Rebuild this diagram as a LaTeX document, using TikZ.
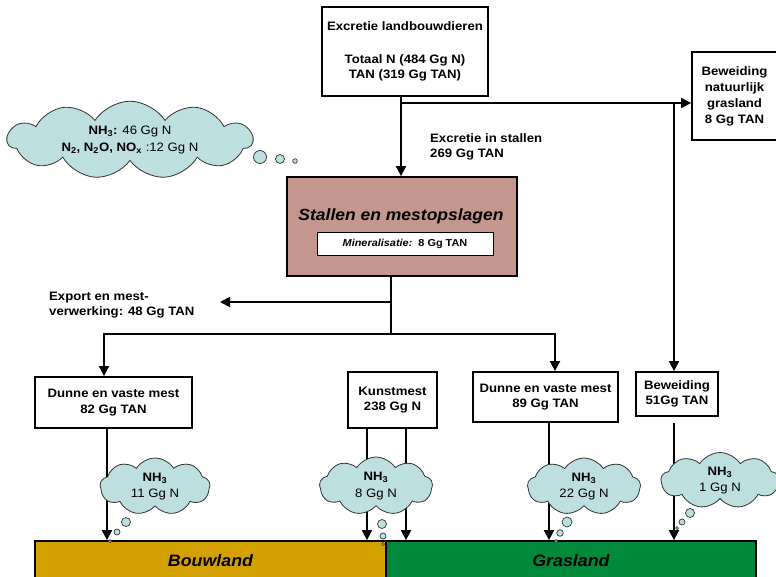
\documentclass[tikz,border=0pt]{standalone}
\usepackage{fontspec}
\setmainfont{Liberation Sans}[FakeStretch=1.08]
\usetikzlibrary{arrows.meta,shapes.symbols}
\definecolor{wolkcol}{RGB}{190,223,224}
\definecolor{stalcol}{RGB}{195,151,142}
\definecolor{bouwcol}{RGB}{212,160,0}
\definecolor{grascol}{RGB}{0,137,58}
\tikzset{
  box/.style={draw, line width=1.8pt, fill=white, align=center, inner sep=0pt,
    font=\bfseries\fontsize{12.2}{15.5}\selectfont},
  flow/.style={line width=1.8pt},
  arr/.style={line width=1.8pt, -{Triangle[length=10pt,width=10pt]}},
  txt/.style={align=left, anchor=west, inner sep=0pt, font=\bfseries\fontsize{12.2}{15.5}\selectfont},
  wolk/.style={cloud, cloud puffs=11, cloud puff arc=115, draw=black!80, line width=0.8pt,
    fill=wolkcol, align=center, inner sep=0pt, font=\fontsize{12.2}{16.5}\selectfont},
  bubble/.style={draw=black!80, line width=0.7pt, fill=wolkcol},
  bar/.style={draw, line width=1.8pt, inner sep=0pt, font=\bfseries\itshape\fontsize{16.5}{18}\selectfont}
}
\begin{document}
\begin{tikzpicture}[x=1pt,y=-1pt]
    \useasboundingbox (0,0) rectangle (776,576);
    % boxes
    \node[box, minimum width=166pt, minimum height=89pt] (excr) at (405,51.5)
        {Excretie landbouwdieren\\[17pt]Totaal N (484 Gg N)\\TAN (319 Gg TAN)};
    \node[box, minimum width=85pt, minimum height=88pt, font=\bfseries\fontsize{12.2}{16}\selectfont] (nat) at (734.5,96)
        {Beweiding\\natuurlijk\\grasland\\8 Gg TAN};
    \node[box, fill=stalcol, minimum width=230pt, minimum height=99pt] (stal) at (402,226.5) {};
    \node[font=\bfseries\itshape\fontsize{16.2}{18}\selectfont, inner sep=0pt] (staltxt) at (401,216) {Stallen en mestopslagen};
    \node[box, line width=0.8pt, minimum width=176pt, minimum height=23pt,
        font=\bfseries\fontsize{10.1}{12}\selectfont] (mineral) at (405,243.5) {\textit{Mineralisatie:}\ \ 8 Gg TAN};
    \node[box, minimum width=157pt, minimum height=51pt] (mest1) at (113.5,402.5) {Dunne en vaste mest\\82 Gg TAN};
    \node[box, minimum width=89pt, minimum height=56pt] (kunst) at (392.5,400) {Kunstmest\\238 Gg N};
    \node[box, minimum width=145pt, minimum height=50pt] (mest2) at (545.5,397) {Dunne en vaste mest\\89 Gg TAN};
    \node[box, minimum width=82pt, minimum height=44pt] (bew) at (677,394) {Beweiding\\51Gg TAN};
    % land
    \node[bar, fill=bouwcol, minimum width=351pt, minimum height=40pt] (bouw) at (210.5,561) {Bouwland};
    \node[bar, fill=grascol, minimum width=370pt, minimum height=40pt] (gras) at (571,561) {Grasland};
    % text
    \node[txt] (stallabel) at (430,147) {Excretie in stallen\\269 Gg TAN};
    \node[txt] (explabel) at (49,305) {Export en mest-\\verwerking: 48 Gg TAN};
    % excretie
    \coordinate (split) at (401,103);
    \coordinate (turn) at (674,103);
    \draw[arr] (excr.south -| split) -- (stal.north -| split);
    \draw[arr] (split) -- (split -| nat.west);
    \draw[arr] (turn) -- (turn |- bew.north);
    % verdeling
    \coordinate (hub) at (391,302);
    \coordinate (fork) at (391,334);
    \coordinate (expend) at (220,302);
    \coordinate (colL) at (104,334);
    \coordinate (colR) at (555,334);
    \draw[flow] (stal.south -| hub) -- (fork);
    \draw[arr] (hub) -- (expend);
    \draw[arr] (fork) -- (colL) -- (colL |- mest1.north);
    \draw[arr] (fork) -- (colR) -- (colR |- mest2.north);
    % toediening
    \draw[arr] ([xshift=-6.5pt]mest1.south) -- ([xshift=-6.5pt]mest1.south |- bouw.north);
    \draw[arr] ([xshift=-25.5pt]kunst.south) -- ([xshift=-25.5pt]kunst.south |- bouw.north);
    \draw[arr] ([xshift=13.5pt]kunst.south) -- ([xshift=13.5pt]kunst.south |- gras.north);
    \draw[arr] ([xshift=3.5pt]mest2.south) -- ([xshift=3.5pt]mest2.south |- gras.north);
    \draw[arr, shorten <=6pt] ([xshift=-3pt]bew.south) -- ([xshift=-3pt]bew.south |- gras.north);
    % emissions
    \node[wolk, aspect=3.9, minimum width=245pt, minimum height=74pt] (emstal) at (130,140)
        {\textbf{NH\textsubscript{3}:} 46 Gg N\\\textbf{N\textsubscript{2}, N\textsubscript{2}O, NO\textsubscript{x}} :12 Gg N};
    \draw[bubble] (260,157) circle (6.5) (280,159) circle (4.5) (295,161) circle (2.3);
    \node[wolk, cloud puffs=9, aspect=1.95, minimum width=110pt, minimum height=57pt] (em1) at (155,486.5) {\textbf{NH\textsubscript{3}}\\11 Gg N};
    \draw[bubble] (126,522) circle (4.5) (117,532) circle (3) (110,541) circle (1.5);
    \node[wolk, cloud puffs=9, aspect=1.95, minimum width=113pt, minimum height=58pt] (em2) at (376,486) {\textbf{NH\textsubscript{3}}\\8 Gg N};
    \draw[bubble] (382,524) circle (4.5) (383,536) circle (3) (383,544) circle (1.5);
    \node[wolk, cloud puffs=9, aspect=1.95, minimum width=113pt, minimum height=57pt] (em3) at (584,486.5) {\textbf{NH\textsubscript{3}}\\22 Gg N};
    \draw[bubble] (567,522) circle (5) (560,533) circle (3.3) (556,541) circle (1.5);
    \node[wolk, cloud puffs=9, aspect=2.1, minimum width=118pt, minimum height=56pt] (em4) at (720,480.5) {\textbf{NH\textsubscript{3}}\\1 Gg N};
    \draw[bubble] (690,513) circle (4.5) (682,522) circle (3) (677,528) circle (1.5);
\end{tikzpicture}
\end{document}
